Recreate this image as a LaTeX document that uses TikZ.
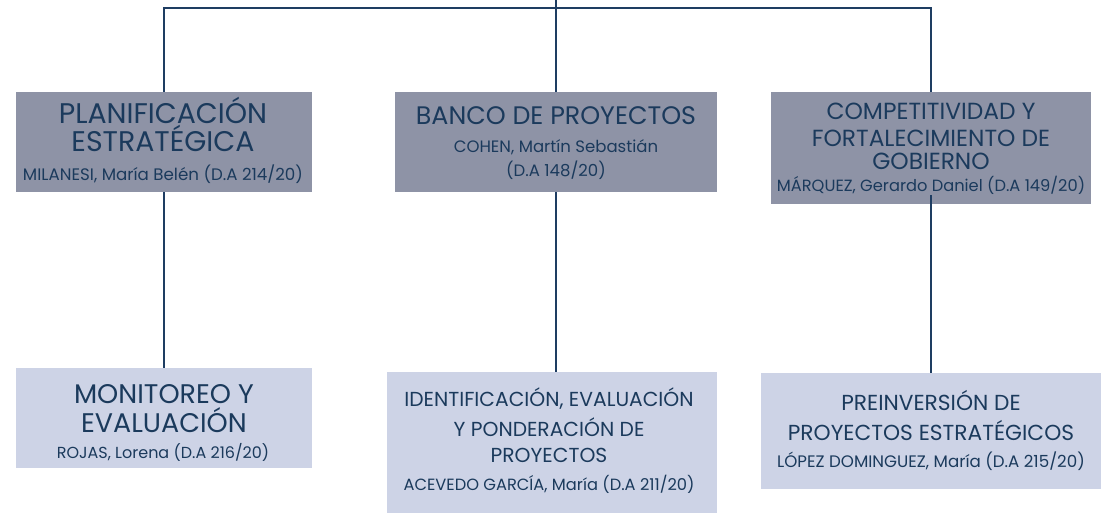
\documentclass[tikz,border=0pt]{standalone}
\usepackage{fontspec}
\setmainfont{Poppins}
\definecolor{darkbox}{RGB}{142,147,166}
\definecolor{lightbox}{RGB}{205,211,230}
\definecolor{navy}{RGB}{27,58,92}
\definecolor{wire}{RGB}{30,61,98}
\tikzset{
  box/.style={rectangle, inner sep=0pt, anchor=center},
  upper/.style={box, fill=darkbox},
  lower/.style={box, fill=lightbox},
  txt/.style={anchor=base, inner sep=0pt, text=navy},
  wirestyle/.style={draw=wire, line width=1.6pt},
}
\newcommand{\fs}[1]{\fontsize{#1}{#1}\selectfont}
\begin{document}
\begin{tikzpicture}[x=0.75pt, y=-0.75pt]
\useasboundingbox (0,0) rectangle (1103,514);
% boxes
\node[upper, minimum width=296*0.75pt, minimum height=100*0.75pt] (b1) at (164,142) {};
\node[upper, minimum width=322*0.75pt, minimum height=100*0.75pt] (b2) at (556,142) {};
\node[upper, minimum width=320*0.75pt, minimum height=112*0.75pt] (b3) at (931,148) {};
\node[lower, minimum width=296*0.75pt, minimum height=100*0.75pt] (b4) at (164,418) {};
\node[lower, minimum width=330*0.75pt, minimum height=141*0.75pt] (b5) at (552,442.5) {};
\node[lower, minimum width=340*0.75pt, minimum height=116*0.75pt] (b6) at (931,431) {};
% box 1
\node[txt, font=\fs{21.3}] (t1a) at (163,123) {PLANIFICACIÓN};
\node[txt, font=\fs{21.3}] (t1b) at (163,151) {ESTRATÉGICA};
\node[txt, font=\fs{12.5}] (t1c) at (163,180) {MILANESI, María Belén (D.A 214/20)};
% box 2
\node[txt, font=\fs{19}] (t2a) at (556,124) {BANCO DE PROYECTOS};
\node[txt, font=\fs{12.4}] (t2b) at (556,152) {COHEN, Martín Sebastián};
\node[txt, font=\fs{12.4}] (t2c) at (556,176) {(D.A 148/20)};
% box 3
\node[txt, font=\fs{17.5}] (t3a) at (931,119) {COMPETITIVIDAD Y};
\node[txt, font=\fs{17.5}] (t3b) at (931,146) {FORTALECIMIENTO DE};
\node[txt, font=\fs{17.5}] (t3c) at (931,169) {GOBIERNO};
\node[txt, font=\fs{12.2}] (t3d) at (931,191) {MÁRQUEZ, Gerardo Daniel (D.A 149/20)};
% box 4
\node[txt, font=\fs{20.2}] (t4a) at (164,403) {MONITOREO Y};
\node[txt, font=\fs{20.2}] (t4b) at (164,432) {EVALUACIÓN};
\node[txt, font=\fs{12}] (t4c) at (163,458) {ROJAS, Lorena (D.A 216/20)};
% box 5
\node[txt, font=\fs{15.2}] (t5a) at (549,406) {IDENTIFICACIÓN, EVALUACIÓN};
\node[txt, font=\fs{15.2}] (t5b) at (549,436) {Y PONDERACIÓN DE};
\node[txt, font=\fs{15.2}] (t5c) at (549,462) {PROYECTOS};
\node[txt, font=\fs{12.2}] (t5d) at (549,490) {ACEVEDO GARCÍA, María (D.A 211/20)};
% box 6
\node[txt, font=\fs{16.3}] (t6a) at (931,410) {PREINVERSIÓN DE};
\node[txt, font=\fs{16.3}] (t6b) at (931,440) {PROYECTOS ESTRATÉGICOS};
\node[txt, font=\fs{12.5}] (t6c) at (931,467) {LÓPEZ DOMINGUEZ, María (D.A 215/20)};
% connectors
\coordinate (root) at (556,0);
\coordinate (bar) at (556,8);
\draw[wirestyle] (root) -- (b2.north);
\draw[wirestyle] (b1.north) |- (bar) -| (b3.north);
\draw[wirestyle] (b1.south) -- (b4.north);
\draw[wirestyle] (b2.south) -- (b2.south |- b5.north);
\draw[wirestyle] ([yshift=7pt]b3.south) -- (b6.north);
\end{tikzpicture}
\end{document}
